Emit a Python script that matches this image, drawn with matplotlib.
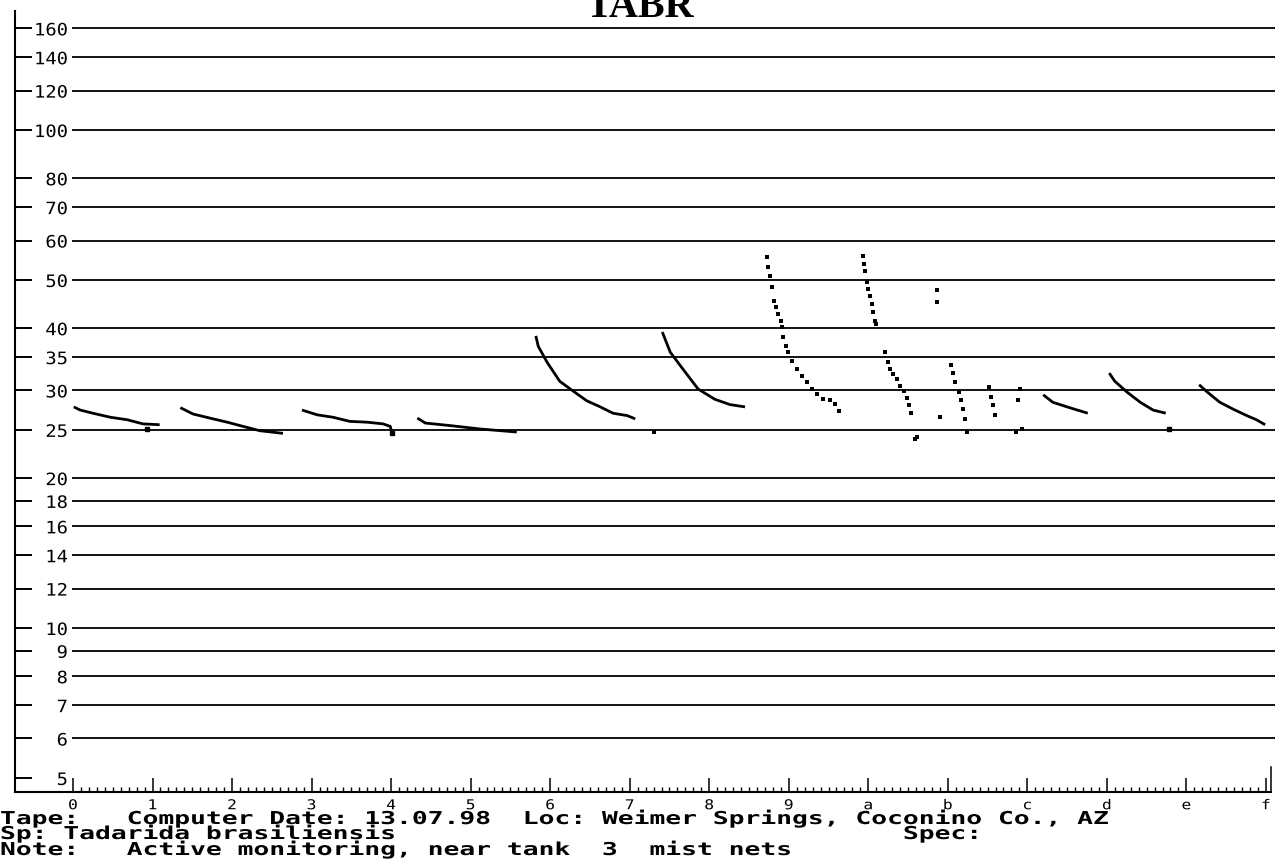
import numpy as np
import matplotlib
matplotlib.use('Agg')
import matplotlib.pyplot as plt
from matplotlib import patheffects
from matplotlib.transforms import Affine2D

#+++++++++++++++ tick values and labels
freq_ticks = [5, 6, 7, 8, 9, 10, 12, 14, 16, 18, 20, 25, 30, 35, 40, 50, 60, 70, 80, 100, 120, 140, 160]
freq_labels = ['5', '6', '7', '8', '9', '10', '12', '14', '16', '18', '20', '25', '30', '35', '40',
               '50', '60', '70', '80', '100', '120', '140', '160']
time_ticks = list(range(16))
time_labels = ['0', '1', '2', '3', '4', '5', '6', '7', '8', '9', 'a', 'b', 'c', 'd', 'e', 'f']

#+++++++++++++++ call traces (time units, kHz)
# continuous calls
c1_t = [0.01, 0.09, 0.25, 0.47, 0.68, 0.88, 1.09]
c1_f = [27.8, 27.4, 27.0, 26.5, 26.2, 25.7, 25.6]
c2_t = [1.35, 1.51, 1.72, 1.94, 2.14, 2.35, 2.64]
c2_f = [27.7, 26.9, 26.4, 25.9, 25.4, 24.9, 24.6]
c3_t = [2.88, 3.07, 3.27, 3.48, 3.70, 3.90, 3.99, 4.01]
c3_f = [27.4, 26.8, 26.5, 26.0, 25.9, 25.7, 25.4, 24.6]
c4_t = [4.33, 4.43, 4.74, 5.12, 5.58]
c4_f = [26.4, 25.8, 25.5, 25.1, 24.75]
c5_t = [5.82, 5.85, 5.96, 6.12, 6.29, 6.46, 6.63, 6.79, 6.97, 7.07]
c5_f = [38.6, 36.8, 34.2, 31.3, 29.9, 28.6, 27.8, 27.0, 26.7, 26.3]
c6_t = [7.41, 7.51, 7.67, 7.86, 8.07, 8.26, 8.45]
c6_f = [39.3, 35.8, 33.1, 30.2, 28.8, 28.1, 27.8]
c12_t = [12.20, 12.32, 12.50, 12.66, 12.76]
c12_f = [29.4, 28.4, 27.8, 27.3, 27.0]
c13_t = [13.03, 13.10, 13.25, 13.42, 13.58, 13.74]
c13_f = [32.5, 31.3, 29.8, 28.4, 27.4, 27.0]
c14_t = [14.16, 14.26, 14.42, 14.59, 14.76, 14.88, 14.99]
c14_f = [30.8, 29.8, 28.4, 27.5, 26.7, 26.2, 25.6]

# short stems hanging off the flat calls
stem_t = [0.93, 4.01, 13.78]
stem_f = [25.1, 24.6, 25.1]

# dotted calls
c9_t = [8.73, 8.74, 8.76, 8.79, 8.81, 8.84, 8.86, 8.90, 8.91, 8.93, 8.97, 8.99, 9.04, 9.10,
        9.17, 9.23, 9.29, 9.35, 9.43, 9.52, 9.58, 9.63]
c9_f = [55.6, 53.1, 50.9, 48.4, 45.4, 44.1, 42.7, 41.4, 40.2, 38.4, 36.8, 35.8, 34.4, 33.1,
        32.1, 31.2, 30.2, 29.5, 28.8, 28.7, 28.2, 27.3]
ca_t = [9.93, 9.95, 9.96, 9.98, 10.00, 10.02, 10.05, 10.06, 10.08, 10.10,
        10.21, 10.25, 10.27, 10.31, 10.36, 10.40, 10.45, 10.49, 10.51, 10.54]
ca_f = [55.8, 53.8, 52.1, 49.5, 47.9, 46.4, 44.7, 43.1, 41.4, 40.8,
        35.8, 34.2, 33.1, 32.4, 31.6, 30.6, 29.9, 29.0, 28.1, 27.0]
cb_t = [11.04, 11.07, 11.09, 11.14, 11.17, 11.19, 11.22, 11.24,
        11.52, 11.54, 11.57, 11.59]
cb_f = [33.7, 32.5, 31.2, 29.8, 28.7, 27.5, 26.3, 24.75,
        30.5, 29.1, 28.1, 26.8]
# stray points
dots_t = [7.31, 10.59, 10.61, 10.90, 10.86, 10.86, 11.91, 11.88, 11.86, 11.93]
dots_f = [24.75, 24.0, 24.2, 26.5, 47.7, 45.1, 30.2, 28.7, 24.75, 25.1]

header_lines = [
    'Tape:   Computer Date: 13.07.98  Loc: Weimer Springs, Coconino Co., AZ',
    'Sp: Tadarida brasiliensis' + ' ' * 32 + 'Spec:',
    'Note:   Active monitoring, near tank  3  mist nets',
]


class Stretch(patheffects.AbstractPathEffect):
    # widen glyphs horizontally, one edge of the string stays put
    def __init__(self, sx, anchor=None):
        super().__init__()
        self.sx = sx
        self.anchor = anchor

    def draw_path(self, renderer, gc, tpath, affine, rgbFace=None):
        x0 = 0.0
        if self.anchor is not None:
            ext = tpath.get_extents()
            x0 = ext.x0 + self.anchor * ext.width
        tr = Affine2D().translate(-x0, 0).scale(self.sx, 1).translate(x0, 0) + affine
        renderer.draw_path(gc, tpath, tr, rgbFace)


W, H = 1275, 862
fig = plt.figure(figsize=(W / 100, H / 100), dpi=100)
ax = fig.add_axes([15 / W, 1 - 793 / H, (W - 15) / W, (793 - 12) / H])

ax.set_yscale('log')
ax.set_ylim(4.685, 173.4)
ax.set_xlim(-0.729, 15.114)

for s in ['top', 'right']:
    ax.spines[s].set_visible(False)
ax.spines['left'].set_linewidth(1.5)
ax.spines['bottom'].set_linewidth(1.5)
ax.spines['bottom'].set_bounds(-0.729, 15.06)

# horizontal grid
ax.hlines(freq_ticks[1:], -0.013, 15.2, color='black', lw=1.3)

ax.set_yticks(freq_ticks)
ax.set_yticklabels(freq_labels)
ax.yaxis.set_minor_locator(matplotlib.ticker.NullLocator())
ax.tick_params(axis='y', direction='in', length=12, width=1.4, pad=-38,
               labelsize=12.3)
for lbl in ax.get_yticklabels():
    lbl.set_fontfamily('DejaVu Sans Mono')
    lbl.set_path_effects([Stretch(1.1, anchor=1.0)])

ax.set_xticks(time_ticks)
ax.set_xticklabels(time_labels)
ax.set_xticks(np.arange(0, 15.01, 0.1), minor=True)
ax.tick_params(axis='x', which='major', direction='in', length=10, width=1.1, pad=4.5,
               labelsize=9.8)
ax.tick_params(axis='x', which='minor', direction='in', length=3.6, width=1.0)
for lbl in ax.get_xticklabels():
    lbl.set_fontfamily('DejaVu Sans Mono')
    lbl.set_path_effects([Stretch(1.2, anchor=0.5)])

# end marker on the time axis
ax.axvline(15.06, 0, 0.032, color='black', lw=1.1)

# continuous calls
for t, f in [(c1_t, c1_f), (c2_t, c2_f), (c3_t, c3_f), (c4_t, c4_f), (c5_t, c5_f),
             (c6_t, c6_f), (c12_t, c12_f), (c13_t, c13_f), (c14_t, c14_f)]:
    ax.plot(t, f, color='black', lw=2.0, solid_capstyle='butt')
ax.plot(stem_t, stem_f, ls='none', marker='s', ms=2.2, color='black')

# dotted calls
for t, f in [(c9_t, c9_f), (ca_t, ca_f), (cb_t, cb_f), (dots_t, dots_f)]:
    ax.plot(t, f, ls='none', marker='s', ms=2.3, mew=0, color='black')

fig.text(640 / W, 1 - 17 / H, 'TABR', family='Liberation Serif', weight='bold',
         fontsize=29, ha='center', va='baseline')

for i, line in enumerate(header_lines):
    fig.text(0, 1 - [825, 840, 856][i] / H, line, family='DejaVu Sans Mono',
             weight='bold', fontsize=12.8, ha='left', va='baseline',
             path_effects=[Stretch(1.48)])

fig.savefig('out.png', dpi=100)
